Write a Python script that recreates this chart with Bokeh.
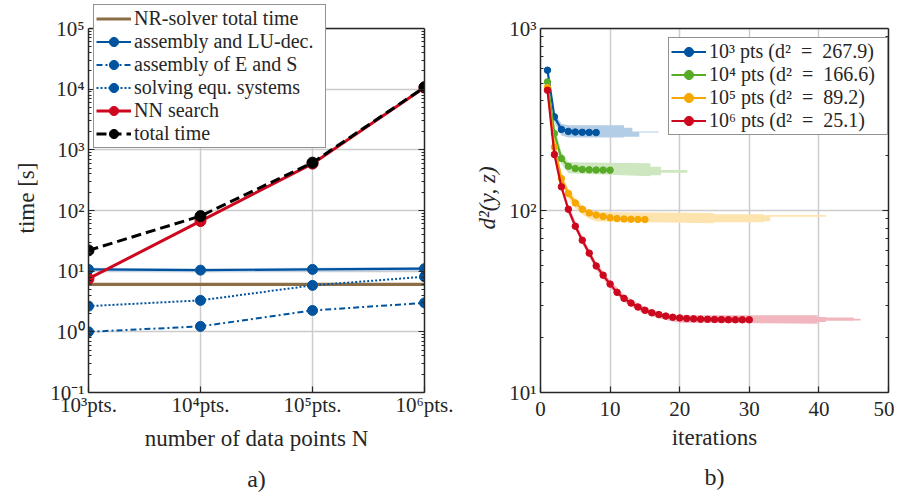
import numpy as np
from bokeh.plotting import figure
from bokeh.layouts import row
from bokeh.models import (FixedTicker, LogAxis, Legend, LegendItem, Title,
                          CustomJSTickFormatter, Span, BoxAnnotation)
from bokeh.embed import file_html
from bokeh.resources import INLINE

# ---------------- data: panel a) ----------------
n_points = [1e3, 1e4, 1e5, 1e6]
x_tick_labels_a = ["10³pts.", "10⁴pts.", "10⁵pts.", "10⁶pts."]
nr_solver_total = [6.05, 6.05, 6.05, 6.05]
assembly_lu = [10.7, 10.4, 10.7, 11.0]
assembly_lu_lo = [9.8, 9.6, 9.8, 10.1]
assembly_lu_hi = [11.4, 11.1, 11.4, 11.7]
assembly_es = [1.0, 1.23, 2.25, 3.0]
solving_eq = [2.65, 3.3, 5.83, 8.1]
nn_search = [7.5, 67, 592, 10630]
total_time = [22, 81, 615, 10790]
y_ticks_a = [0.1, 1, 10, 100, 1e3, 1e4, 1e5]
y_tick_labels_a = ["10⁻¹", "10⁰", "10¹", "10²", "10³", "10⁴", "10⁵"]

# ---------------- data: panel b) ----------------
d2_1e3 = [590, 327, 279, 272, 270, 269, 268.5, 267.9]
d2_1e4 = [509, 265, 193, 175, 170, 168, 167.3, 166.9, 166.7, 166.6]
d2_1e5 = [474, 223, 150, 124, 110, 101.6, 97, 94.5, 92.8, 91.2, 90.3, 89.8, 89.5, 89.3, 89.2]
d2_1e6 = [458, 203, 135, 101.6, 82, 68.7, 58.3, 49.6, 44.1, 39.4, 35.5, 32.9, 31.0, 29.5,
          28.3, 27.4, 26.8, 26.3, 25.9, 25.7, 25.5, 25.4, 25.3, 25.25, 25.2, 25.15, 25.12,
          25.1, 25.1, 25.1]

band_x_1e3 = [2, 3, 4, 12, 12, 13.2, 13.2, 14.2, 14.2, 17]
band_hi_1e3 = [345, 300, 294, 294, 285, 285, 272, 272, 272, 272]
band_lo_1e3 = [305, 258, 252, 252, 254, 254, 254, 254, 268, 268]

band_x_1e4 = [2, 3, 4, 15.8, 15.8, 17.3, 17.3, 21.1]
band_hi_1e4 = [290, 210, 184, 182, 174, 174, 167, 167]
band_lo_1e4 = [245, 180, 160, 154, 156, 156, 161, 161]

band_x_1e5 = [2, 3, 4, 5, 6, 7, 8, 24.9, 24.9, 32.1, 32.1, 33, 33, 41]
band_hi_1e5 = [240, 160, 132, 117, 107, 101, 98, 97, 95.3, 95.3, 94.2, 94.2, 94.5, 94.5]
band_lo_1e5 = [205, 140, 116, 103, 95, 90, 87, 85, 86.2, 86.2, 87.2, 87.2, 92.5, 92.5]

band_x_1e6 = [2, 3, 4, 6, 8, 10, 12, 14, 16, 18, 20, 39.8, 39.8, 41, 41, 45, 45, 46]
band_hi_1e6 = [215, 142, 107, 72, 52, 41.3, 34.4, 30.8, 28.5, 27.2, 26.6, 26.6, 26.0, 26.0,
               25.8, 25.8, 25.4, 25.4]
band_lo_1e6 = [192, 128, 96, 65.5, 47.2, 37.5, 31.4, 28.2, 26.2, 25.0, 24.2, 23.9, 24.4, 24.4,
               24.8, 24.8, 24.9, 24.9]

legend_b = ["10³ pts (d²\u2002=\u2002267.9)", "10⁴ pts (d²\u2002=\u2002166.6)",
            "10⁵ pts (d²\u2002=\u200289.2)", "10⁶ pts (d²\u2002=\u200225.1)"]
x_ticks_b = [0, 10, 20, 30, 40, 50]
y_ticks_b = [10, 100, 1000]
y_tick_labels_b = ["10¹", "10²", "10³"]

# ---------------- style ----------------
FONT = "Liberation Serif"
AX = "#262626"
BLUE, GREEN, ORANGE, RED = "#00549F", "#57AB27", "#F6A800", "#CC071E"
BROWN = "#8C6E46"

BOX_H = 364            # height of the axes box of both panels
EXTRA_TOP = 25         # room above each box (panel a needs it for its legend)


def log_minor(lo_exp, hi_exp):
    return [m * 10.0 ** e for e in range(lo_exp, hi_exp) for m in range(2, 10)]


def style_axis(ax, labels=True):
    ax.axis_line_color = AX
    ax.axis_line_width = 1.5
    ax.major_tick_in = 6
    ax.major_tick_out = 0
    ax.minor_tick_in = 3
    ax.minor_tick_out = 0
    ax.major_tick_line_color = AX
    ax.minor_tick_line_color = AX
    ax.major_tick_line_width = 1.2
    ax.minor_tick_line_width = 1.2
    ax.major_label_text_font = FONT
    ax.major_label_text_font_size = "21px"
    ax.major_label_text_color = AX
    ax.major_label_standoff = 4 if labels else 0
    ax.axis_label_text_font = FONT
    ax.axis_label_text_font_size = "23px"
    ax.axis_label_text_font_style = "normal"
    ax.axis_label_text_color = AX
    if not labels:
        ax.formatter = CustomJSTickFormatter(code="return ''")


def base_fig(y_lo_exp, n_dec, **kw):
    y_top = 10 ** (y_lo_exp + n_dec * (BOX_H + EXTRA_TOP) / BOX_H)
    p = figure(output_backend="svg", toolbar_location=None, title=None, y_axis_type="log",
               y_range=(10 ** y_lo_exp, y_top), frame_height=BOX_H + EXTRA_TOP,
               min_border_top=28 - EXTRA_TOP, min_border_bottom=98, **kw)
    p.outline_line_color = None
    p.grid.grid_line_color = "#CCCCCC"
    p.grid.grid_line_width = 1.5
    p.background_fill_color = "white"
    p.border_fill_color = "white"
    return p


def close_box(p, y_box_top, ticks, minor):
    # hide everything above the axes box, then draw the box's top edge and right axis
    p.add_layout(BoxAnnotation(bottom=y_box_top, fill_color="white", fill_alpha=1,
                               line_color=None))
    p.add_layout(Span(location=y_box_top, dimension="width", line_color=AX, line_width=1.5))
    r = LogAxis(ticker=FixedTicker(ticks=ticks, minor_ticks=minor),
                bounds=(ticks[0], ticks[-1]))
    style_axis(r, labels=False)
    p.add_layout(r, "right")


def style_legend(leg, label_width):
    leg.label_text_font = FONT
    leg.label_text_font_size = "20px"
    leg.label_text_color = AX
    leg.glyph_width = 35
    leg.glyph_height = 23
    leg.label_height = 23
    leg.label_width = label_width
    leg.spacing = 0
    leg.padding = 2
    leg.margin = 0
    leg.label_standoff = 3
    leg.border_line_color = AX
    leg.border_line_width = 1.5
    leg.background_fill_color = "white"
    leg.background_fill_alpha = 1


# ---------------- panel a ----------------
p1 = base_fig(-1, 6, x_axis_type="log", x_range=(1e3, 1e6), frame_width=336,
              min_border_left=88, min_border_right=36)
p1.xaxis.ticker = FixedTicker(ticks=n_points, minor_ticks=[])
p1.yaxis.ticker = FixedTicker(ticks=y_ticks_a, minor_ticks=log_minor(-1, 5))
p1.yaxis.bounds = (y_ticks_a[0], y_ticks_a[-1])
p1.xaxis.major_label_overrides = dict(zip(n_points, x_tick_labels_a))
p1.yaxis.major_label_overrides = dict(zip(y_ticks_a, y_tick_labels_a))
p1.xaxis.axis_label = "number of data points N"
p1.yaxis.axis_label = "time [s]"
for ax in p1.xaxis + p1.yaxis:
    style_axis(ax)
p1.xaxis.major_label_standoff = 0
p1.yaxis.axis_label_standoff = 8
p1.xaxis.axis_label_standoff = 6

p1.varea(x=n_points, y1=assembly_lu_lo, y2=assembly_lu_hi, fill_color="#C3D4E8", fill_alpha=1)
r_nr = p1.line(n_points, nr_solver_total, line_color=BROWN, line_width=3.2)
r_lu = p1.line(n_points, assembly_lu, line_color=BLUE, line_width=2.2)
s_lu = p1.scatter(n_points, assembly_lu, size=10, color=BLUE)
r_es = p1.line(n_points, assembly_es, line_color=BLUE, line_width=2, line_dash="6 3 2 3")
s_es = p1.scatter(n_points, assembly_es, size=10, color=BLUE)
r_sv = p1.line(n_points, solving_eq, line_color=BLUE, line_width=2, line_dash="2 2")
s_sv = p1.scatter(n_points, solving_eq, size=10, color=BLUE)
r_nn = p1.line(n_points, nn_search, line_color=RED, line_width=3)
s_nn = p1.scatter(n_points, nn_search, size=11, color=RED)
r_tt = p1.line(n_points, total_time, line_color="black", line_width=3, line_dash="10 5")
s_tt = p1.scatter(n_points, total_time, size=11, color="black")

close_box(p1, y_ticks_a[-1], y_ticks_a, log_minor(-1, 5))

leg_a = Legend(items=[
    LegendItem(label="NR-solver total time", renderers=[r_nr]),
    LegendItem(label="assembly and LU-dec.", renderers=[r_lu, s_lu]),
    LegendItem(label="assembly of E and S", renderers=[r_es, s_es]),
    LegendItem(label="solving equ. systems", renderers=[r_sv, s_sv]),
    LegendItem(label="NN search", renderers=[r_nn, s_nn]),
    LegendItem(label="total time", renderers=[r_tt, s_tt]),
], location=(5, 244))
style_legend(leg_a, 189)
p1.add_layout(leg_a)
p1.add_layout(Title(text="a)", align="center", text_font=FONT, text_font_size="24px",
                    text_font_style="normal", text_color=AX, standoff=20), "below")

# ---------------- panel b ----------------
p2 = base_fig(1, 2, x_range=(0, 50), frame_width=348, min_border_left=80, min_border_right=6)
p2.xaxis.ticker = FixedTicker(ticks=x_ticks_b, minor_ticks=[])
p2.yaxis.ticker = FixedTicker(ticks=y_ticks_b, minor_ticks=log_minor(1, 3))
p2.yaxis.bounds = (y_ticks_b[0], y_ticks_b[-1])
p2.yaxis.major_label_overrides = dict(zip(y_ticks_b, y_tick_labels_b))
p2.xaxis.axis_label = "iterations"
p2.yaxis.axis_label = "d²(y, z)"
for ax in p2.xaxis + p2.yaxis:
    style_axis(ax)
p2.xaxis.major_label_standoff = 9
p2.yaxis.axis_label_text_font_style = "italic"
p2.yaxis.axis_label_standoff = 6
p2.xaxis.axis_label_standoff = 6

bands = [(band_x_1e3, band_lo_1e3, band_hi_1e3, "#B4CDE6"),
         (band_x_1e4, band_lo_1e4, band_hi_1e4, "#CFE7C1"),
         (band_x_1e5, band_lo_1e5, band_hi_1e5, "#FDE4AE"),
         (band_x_1e6, band_lo_1e6, band_hi_1e6, "#F2B7BE")]
for bx, blo, bhi, bc in bands:
    p2.varea(x=bx, y1=blo, y2=bhi, fill_color=bc, fill_alpha=1)

items_b = []
for vals, col, lab in [(d2_1e3, BLUE, legend_b[0]), (d2_1e4, GREEN, legend_b[1]),
                       (d2_1e5, ORANGE, legend_b[2]), (d2_1e6, RED, legend_b[3])]:
    it = list(range(1, len(vals) + 1))
    rl = p2.line(it, vals, line_color=col, line_width=2.2)
    rs = p2.scatter(it, vals, size=6.5, color=col)
    items_b.append(LegendItem(label=lab, renderers=[rl, rs]))

close_box(p2, y_ticks_b[-1], y_ticks_b, log_minor(1, 3))

leg_b = Legend(items=items_b, location=(128, 257))
style_legend(leg_b, 176)
p2.add_layout(leg_b)
p2.add_layout(Title(text="b)", align="center", text_font=FONT, text_font_size="24px",
                    text_font_style="normal", text_color=AX, standoff=18), "below")

layout = row(p1, p2)
open("out.html", "w").write(file_html(layout, INLINE))
